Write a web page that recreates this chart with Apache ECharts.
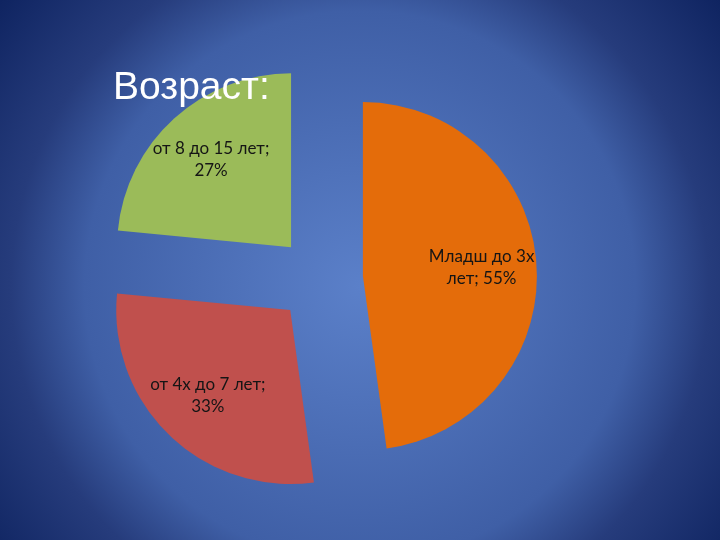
<!DOCTYPE html>
<html>
<head>
<meta charset="utf-8">
<style>
  html, body { margin: 0; padding: 0; }
  #chart { width: 720px; height: 540px; }
</style>
<script src="https://cdn.jsdelivr.net/npm/echarts@6/dist/echarts.min.js"></script>
</head>
<body>
<div id="chart"></div>
<script>
const categories = ['Младш до 3х лет', 'от 4х до 7 лет', 'от 8 до 15 лет']
const values = [55, 33, 27]
const colors = ['#e46c0a', '#c0504d', '#9bbb59']

const labelFont = '17px Lato'
const labelWidth = 126

const chart = echarts.init(document.getElementById('chart'))
const ctx = document.createElement('canvas').getContext('2d')
ctx.font = labelFont

// greedy word wrap, the built-in one breaks these Cyrillic labels too early
function wrap(text) {
  const lines = []
  let cur = ''
  text.split(' ').forEach((w) => {
    const next = cur ? cur + ' ' + w : w
    if (cur && ctx.measureText(next).width > labelWidth) {
      lines.push(cur)
      cur = w
    } else {
      cur = next
    }
  })
  lines.push(cur)
  return lines.join('\n')
}

function items(withColor) {
  return categories.map((name, i) => ({
    name,
    value: values[i],
    selected: true,
    itemStyle: { color: withColor ? colors[i] : 'rgba(0,0,0,0)' }
  }))
}

const common = {
  type: 'pie',
  center: [320, 279],
  startAngle: 90,
  clockwise: true,
  selectedMode: 'multiple',
  selectedOffset: 43,
  animation: false,
  emphasis: { disabled: true },
  labelLine: { show: false }
}

chart.setOption({
  backgroundColor: new echarts.graphic.RadialGradient(0.5, 0.53, 0.85, [
    { offset: 0, color: '#5b80c9' },
    { offset: 0.6, color: '#3f5fa6' },
    { offset: 0.76, color: '#263c7c' },
    { offset: 1, color: '#0f2461' }
  ]),
  title: {
    text: 'Возраст:',
    left: 108,
    top: 64,
    textStyle: {
      fontFamily: 'Liberation Sans',
      fontSize: 39,
      fontWeight: 'normal',
      color: '#ffffff'
    }
  },
  series: [
    {
      ...common,
      radius: 174,
      label: { show: false },
      data: items(true)
    },
    {
      // invisible copy, only used to place the labels further out
      ...common,
      radius: 232,
      silent: true,
      label: {
        show: true,
        position: 'inside',
        formatter: (p) => wrap(p.name + '; ' + p.value + '%'),
        fontFamily: 'Lato',
        fontSize: 17,
        lineHeight: 22,
        color: '#151515',
        align: 'center'
      },
      data: items(false)
    }
  ]
})
</script>
</body>
</html>
